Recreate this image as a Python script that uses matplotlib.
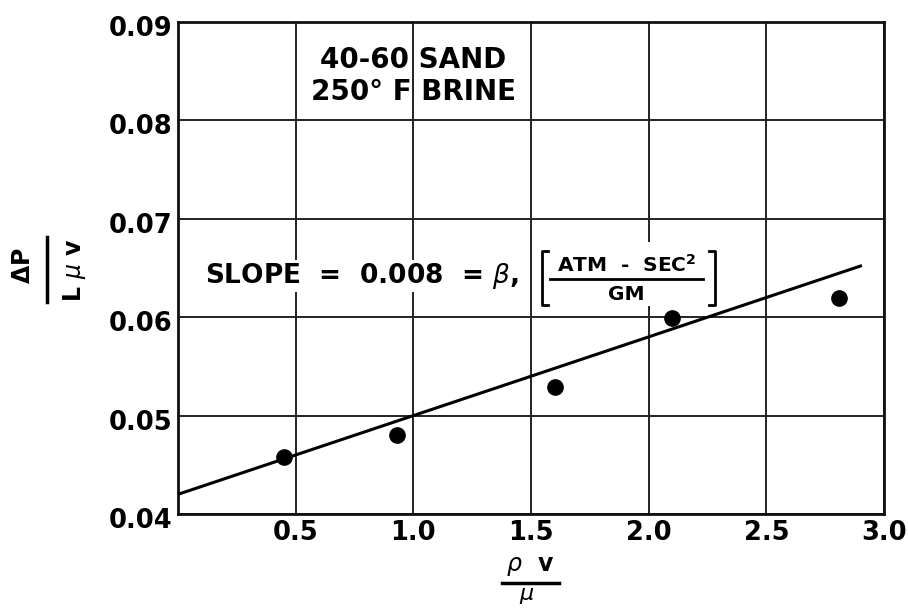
import matplotlib
matplotlib.use("Agg")
import matplotlib.pyplot as plt
import matplotlib.transforms as mtransforms
from matplotlib.lines import Line2D
from matplotlib.patches import Rectangle
import numpy as np

# Measured points: rho*v/mu vs dP/(L*mu*v)
x_vals = [0.45, 0.93, 1.60, 2.10, 2.81]
y_vals = [0.0458, 0.0480, 0.0529, 0.0599, 0.0620]

# Fitted straight line (slope = beta)
slope = 0.008
intercept = 0.042
fit_x = [0.0, 2.9]

x_ticks = [0.5, 1.0, 1.5, 2.0, 2.5, 3.0]
x_ticklabels = ["0.5", "1.0", "1.5", "2.0", "2.5", "3.0"]
y_ticks = [0.04, 0.05, 0.06, 0.07, 0.08, 0.09]
y_ticklabels = ["0.04", "0.05", "0.06", "0.07", "0.08", "0.09"]

plt.rcParams["font.family"] = ["DejaVu Sans"]
plt.rcParams["mathtext.fontset"] = "dejavusans"

W, H = 908, 608
fig = plt.figure(figsize=(W / 100, H / 100), dpi=100)
ax = fig.add_axes([178 / W, 94 / H, 706 / W, 492 / H])


def fx(px):
    return px / W


def fy(py):
    return 1 - py / H


ax.set_xlim(0, 3.0)
ax.set_ylim(0.04, 0.09)
ax.set_xticks(x_ticks)
ax.set_xticklabels(x_ticklabels, fontsize=18.5, fontweight="bold")
ax.set_yticks(y_ticks)
ax.set_yticklabels(y_ticklabels, fontsize=18.5, fontweight="bold")
ax.tick_params(length=0, pad=4)
shift = mtransforms.ScaledTranslation(0, -4 / 100, fig.dpi_scale_trans)
for lab in ax.get_yticklabels():
    lab.set_transform(lab.get_transform() + shift)
ax.grid(True, color="#222222", linewidth=1.4)
ax.set_axisbelow(True)
for sp in ax.spines.values():
    sp.set_linewidth(2.0)
    sp.set_color("#111111")

xx = np.array(fit_x)
ax.plot(xx, intercept + slope * xx, color="black", linewidth=2.2, zorder=3)
ax.plot(x_vals, y_vals, "o", color="black", markersize=11, zorder=4)

ax.text(1.0, 0.0845, "40-60 SAND\n250° F BRINE", ha="center", va="center",
        fontsize=20, fontweight="bold", linespacing=1.15, zorder=5)

# slope annotation
fig.text(fx(205), fy(276), r"SLOPE  =  0.008  = $\beta$,", ha="left", va="center",
         fontsize=19, fontweight="bold", zorder=6,
         bbox=dict(facecolor="white", edgecolor="none", pad=1))
fig.add_artist(Rectangle((fx(536), fy(306)), fx(722) - fx(536), fy(242) - fy(306),
                         transform=fig.transFigure, facecolor="white",
                         edgecolor="none", zorder=5))
fig.text(fx(627), fy(265), r"ATM  -  SEC$^{\mathbf{2}}$", ha="center", va="center",
         fontsize=14.5, fontweight="bold", zorder=6)
fig.add_artist(Line2D([fx(550), fx(703)], [fy(279), fy(279)], color="black",
                      linewidth=2.0, transform=fig.transFigure, zorder=6))
fig.text(fx(626), fy(295), "GM", ha="center", va="center",
         fontsize=14.5, fontweight="bold", zorder=6)
for xa, xb in [(542, 548), (715, 709)]:
    fig.add_artist(Line2D([fx(xb), fx(xa), fx(xa), fx(xb)],
                          [fy(251), fy(251), fy(305), fy(305)], color="black",
                          linewidth=2.0, transform=fig.transFigure, zorder=6))

# y-axis label as a stacked fraction, rotated
fig.text(fx(23), fy(266), r"$\mathbf{\Delta P}$", rotation=90,
         ha="center", va="center", fontsize=17)
fig.add_artist(Line2D([fx(47), fx(47)], [fy(302), fy(237)],
                      color="black", linewidth=2.5, transform=fig.transFigure))
fig.text(fx(74), fy(270), r"L $\mu$ v", rotation=90,
         ha="center", va="center", fontsize=17, fontweight="bold")

# x-axis label as a stacked fraction
fig.text(fx(530), fy(566), r"$\rho$  v", ha="center", va="center",
         fontsize=17, fontweight="bold")
fig.add_artist(Line2D([fx(502), fx(559)], [fy(583), fy(583)],
                      color="black", linewidth=2.5, transform=fig.transFigure))
fig.text(fx(527), fy(600), r"$\mu$", ha="center", va="baseline",
         fontsize=16, fontweight="bold")

fig.savefig("out.png", dpi=100, facecolor="white")
